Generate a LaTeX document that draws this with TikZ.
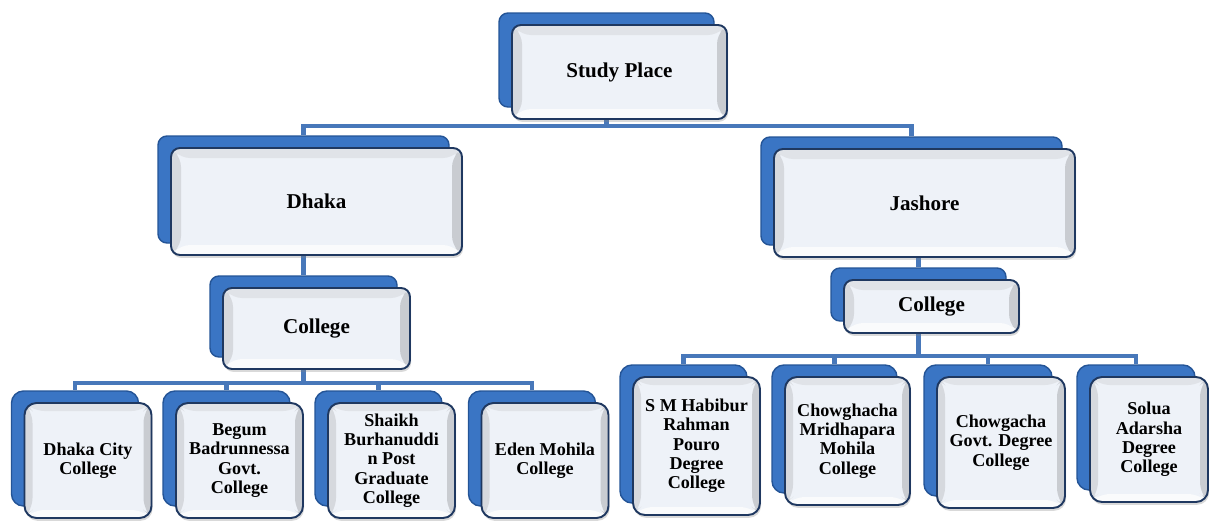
\documentclass[tikz,border=0pt]{standalone}
\usepackage{fontspec}
\setmainfont{Liberation Serif}
\usepackage{tikz}
\usetikzlibrary{shadows,backgrounds,calc}

\definecolor{backblue}{RGB}{58,117,196}
\definecolor{backedge}{RGB}{36,84,150}
\definecolor{frontedge}{RGB}{31,56,96}
\definecolor{facecol}{RGB}{238,242,248}
\definecolor{topband}{RGB}{224,227,232}
\definecolor{sideband}{RGB}{214,217,222}
\definecolor{lowband}{RGB}{250,251,252}
\definecolor{conblue}{RGB}{72,120,186}

\tikzset{
  bevel/.style={path picture={
    \path (path picture bounding box.south west) coordinate (bsw)
          (path picture bounding box.north east) coordinate (bne)
          (bsw |- bne) coordinate (bnw) (bne |- bsw) coordinate (bse);
    \fill[facecol] (bsw) rectangle (bne);
    \fill[topband] (bnw) -- (bne) -- ([shift={(-#1,-#1)}]bne) -- ([shift={(#1,-#1)}]bnw) -- cycle; % top
    \fill[sideband] (bnw) -- ([shift={(#1,-#1)}]bnw) -- ([shift={(#1,#1)}]bsw) -- (bsw) -- cycle; % left
    \fill[sideband!94!black] (bne) -- (bse) -- ([shift={(-#1,#1)}]bse) -- ([shift={(-#1,-#1)}]bne) -- cycle; % right
    \fill[lowband] (bsw) -- (bse) -- ([shift={(-#1,#1)}]bse) -- ([shift={(#1,#1)}]bsw) -- cycle; % bottom
  }},
  card/.style={draw=frontedge, line width=1.1pt, rounded corners=0.18cm, inner sep=0pt,
    align=center, font=\bfseries, bevel=0.2cm,
    copy shadow={shadow xshift=-0.26cm, shadow yshift=0.24cm, fill=backblue, draw=backedge, line width=0.8pt},
    drop shadow={shadow xshift=0.6pt, shadow yshift=-1.6pt, opacity=0.3}},
  big/.style={card, font=\fontsize{12}{13}\selectfont\bfseries},
  leaf/.style={card, bevel=0.16cm, rounded corners=0.24cm, minimum width=2.54cm,
    font=\fontsize{10.3}{11}\selectfont\bfseries},
  conn/.style={draw=conblue, line width=2.4pt}
}

\begin{document}
\begin{tikzpicture}
    \useasboundingbox (0,0) rectangle (24.18,-10.44);
    \node[big, minimum width=4.30cm, minimum height=1.88cm] (study) at (12.39,-1.44) {Study Place}; % Root
    \node[big, minimum width=5.82cm, minimum height=2.14cm] (dhaka) at (6.33,-4.03) {Dhaka};
    \node[big, minimum width=6.02cm, minimum height=2.16cm] (jashore) at (18.49,-4.06) {Jashore};
    \node[big, minimum width=3.74cm, minimum height=1.62cm] (dcol) at (6.33,-6.57) {College};
    \node[big, minimum width=3.50cm, minimum height=1.06cm] (jcol) at (18.63,-6.13) {College};
    % Dhaka colleges
    \node[leaf, minimum height=2.30cm] (d1) at (1.76,-9.21) {Dhaka City\\College};
    \node[leaf, minimum height=2.30cm] (d2) at (4.79,-9.21) {Begum\\Badrunnessa\\Govt.\\College};
    \node[leaf, minimum height=2.30cm] (d3) at (7.83,-9.21) {Shaikh\\Burhanuddi\\n Post\\Graduate\\College};
    \node[leaf, minimum height=2.30cm] (d4) at (10.90,-9.21) {Eden Mohila\\College};
    % Jashore colleges
    \node[leaf, minimum height=2.76cm] (j1) at (13.93,-8.92) {S M Habibur\\Rahman\\Pouro\\Degree\\College};
    \node[leaf, minimum width=2.50cm, minimum height=2.56cm] (j2) at (16.95,-8.82) {Chowghacha\\Mridhapara\\Mohila\\College};
    \node[leaf, minimum width=2.56cm, minimum height=2.62cm] (j3) at (20.02,-8.85) {Chowgacha\\Govt. Degree\\College};
    \node[leaf, minimum width=2.36cm, minimum height=2.50cm] (j4) at (22.98,-8.79) {Solua\\Adarsha\\Degree\\College};
    \begin{scope}[on background layer]
        \foreach \n in {dhaka,jashore}
            \draw[conn] ([xshift=-0.26cm]study.south) -- ++(0,-0.12) -| ([shift={(-0.26cm,0.24cm)}]\n.north);
        \draw[conn] ([xshift=-0.26cm]dhaka.south) -- ([shift={(-0.26cm,0.24cm)}]dcol.north);
        \draw[conn] ([shift={(-0.26cm,0.24cm)}]jcol.north) -- ([xshift=-0.26cm]jcol.north |- jashore.south);
        \foreach \n in {d1,d2,d3,d4}
            \draw[conn] ([xshift=-0.26cm]dcol.south) -- ++(0,-0.26) -| ([shift={(-0.26cm,0.24cm)}]\n.north);
        \foreach \n in {j1,j2,j3,j4}
            \draw[conn] ([xshift=-0.26cm]jcol.south) -- ++(0,-0.44) -| ([shift={(-0.26cm,0.24cm)}]\n.north);
    \end{scope}
\end{tikzpicture}
\end{document}
